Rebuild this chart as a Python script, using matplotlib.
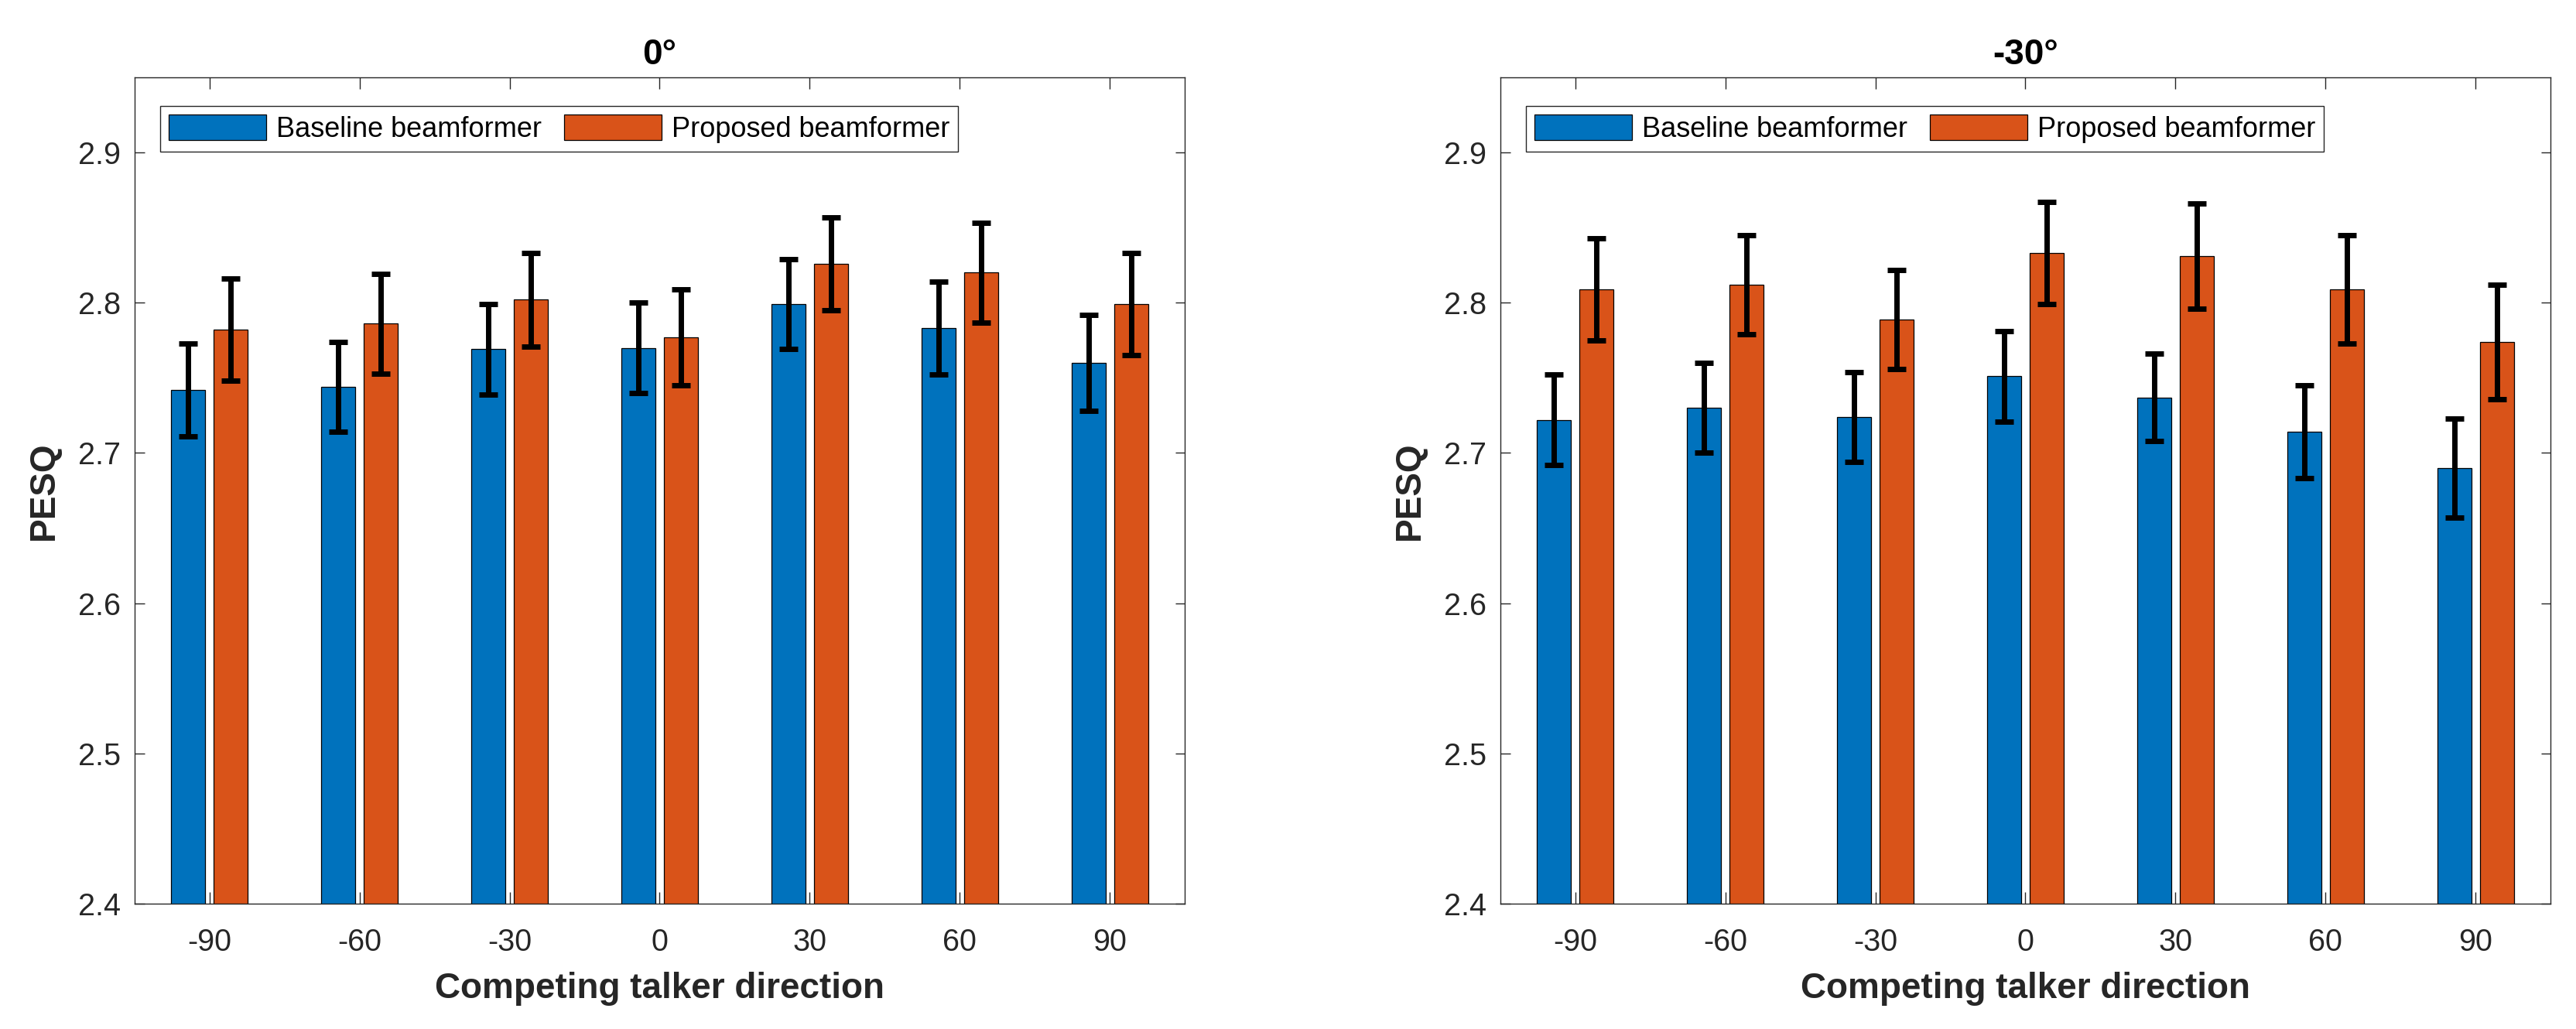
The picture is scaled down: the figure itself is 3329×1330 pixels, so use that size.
import matplotlib
matplotlib.use("Agg")
import matplotlib.pyplot as plt
import numpy as np

plt.rcParams['font.family'] = ['Liberation Sans', 'DejaVu Sans']

directions = ['-90', '-60', '-30', '0', '30', '60', '90']
series_names = ['Baseline beamformer', 'Proposed beamformer']
panel_titles = ['0°', '-30°']

# Panel 0°
base_0 = [2.742, 2.744, 2.769, 2.770, 2.799, 2.783, 2.760]
base_0_err = [0.031, 0.030, 0.030, 0.030, 0.030, 0.031, 0.032]
prop_0 = [2.782, 2.786, 2.802, 2.777, 2.826, 2.820, 2.799]
prop_0_err = [0.034, 0.033, 0.031, 0.032, 0.031, 0.033, 0.034]

# Panel -30°
base_30 = [2.722, 2.730, 2.724, 2.751, 2.737, 2.714, 2.690]
base_30_err = [0.030, 0.030, 0.030, 0.030, 0.029, 0.031, 0.033]
prop_30 = [2.809, 2.812, 2.789, 2.833, 2.831, 2.809, 2.774]
prop_30_err = [0.034, 0.033, 0.033, 0.034, 0.035, 0.036, 0.038]

yticks = [2.4, 2.5, 2.6, 2.7, 2.8, 2.9]

colors = ['#0072BD', '#D95319']
axcol = '#262626'

fig = plt.figure(figsize=(33.3, 13.3), dpi=100)
W, H = 3330, 1330
ax_rects = [
    [174 / W, (H - 1168) / H, 1357 / W, 1068 / H],
    [1939 / W, (H - 1168) / H, 1357 / W, 1068 / H],
]

panels = [
    (base_0, base_0_err, prop_0, prop_0_err),
    (base_30, base_30_err, prop_30, prop_30_err),
]

x = np.arange(1, len(directions) + 1)
bw = 0.227
off = 0.142

for rect, title, (b, be, p, pe) in zip(ax_rects, panel_titles, panels):
    ax = fig.add_axes(rect)
    bars = []
    for vals, errs, sgn, col, name in [(b, be, -1, colors[0], series_names[0]),
                                       (p, pe, 1, colors[1], series_names[1])]:
        xs = x + sgn * off
        h = np.array(vals) - 2.39
        br = ax.bar(xs, h, bottom=2.39, width=bw, color=col, edgecolor='black',
                    linewidth=0.9, label=name, zorder=2)
        bars.append(br)
        ax.errorbar(xs, vals, yerr=errs, fmt='none', ecolor='black',
                    elinewidth=5, capsize=8.5, capthick=5, zorder=3)
    ax.set_xlim(0.5, 7.5)
    ax.set_ylim(2.4, 2.95)
    ax.set_xticks(x)
    ax.set_xticklabels(directions)
    ax.set_yticks(yticks)
    ax.set_yticklabels([f'{t:.1f}' for t in yticks])
    ax.tick_params(axis='both', direction='in', top=True, right=True,
                   colors=axcol, labelsize=28.5, width=1.0)
    ax.tick_params(axis='x', length=11, pad=22)
    ax.tick_params(axis='y', length=9, pad=13)
    for s in ax.spines.values():
        s.set_color(axcol)
        s.set_linewidth(1.0)
    ax.set_title(title, fontsize=33, fontweight='bold', pad=12, color='black')
    ax.set_xlabel('Competing talker direction', fontsize=33, fontweight='bold',
                  color=axcol, labelpad=14)
    ax.set_ylabel('PESQ', fontsize=33, fontweight='bold', color=axcol, labelpad=16)
    leg = ax.legend(handles=bars, labels=series_names, loc='upper left',
                    bbox_to_anchor=(33 / 1357, 1 - 37 / 1068), borderaxespad=0,
                    ncol=2, fontsize=26, frameon=True, fancybox=False,
                    edgecolor=axcol, framealpha=1, handlelength=3.5,
                    handleheight=1.05, handletextpad=0.35, columnspacing=0.8,
                    borderpad=0.3)
    leg.get_frame().set_linewidth(1.0)

fig.savefig('out.png', dpi=100, facecolor='white')
